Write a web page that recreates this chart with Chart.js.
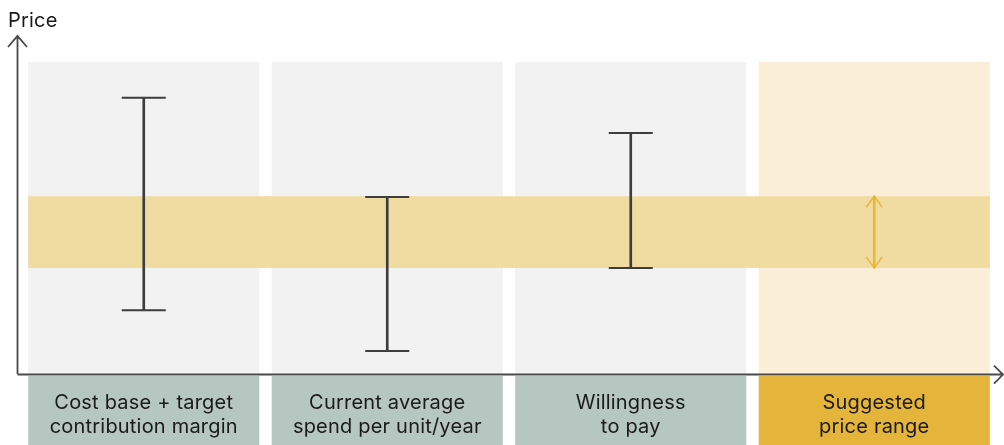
<!DOCTYPE html>
<html>
<head>
<meta charset="utf-8">
<script src="https://cdn.jsdelivr.net/npm/chart.js@4.4.1/dist/chart.umd.min.js"></script>
<style>
  html,body{margin:0;padding:0;background:#fff;}
  #wrap{width:1004px;height:445px;position:relative;}
</style>
</head>
<body>
<div id="wrap"><canvas id="priceChart"></canvas></div>
<script>
// categories and values (price units, 0 = x axis)
const categories = [
  ['Cost base + target', 'contribution margin'],
  ['Current average', 'spend per unit/year'],
  ['Willingness', 'to pay'],
  ['Suggested', 'price range']
];
const rangeLow  = [18.9, 6.8, 31.4, null];
const rangeHigh = [81.7, 52.4, 71.3, null];
const suggestedRange = [31.4, 52.6];
const columnTop = [92.3, 92.3, 92.3, 92.3];
const labelBox = [-0.6, -21];
const yTicks = [-21, 100];

const colColors = ['#f1f2f1', '#f1f2f1', '#f1f2f1', '#faeed9'];
const boxColors = ['#b6c6c0', '#b6c6c0', '#b6c6c0', '#e5b53b'];
const bandColor = '#f0dba0';
const stemColor = '#3d3d3d';
const arrowColor = '#e6b840';
const axisColor = '#4a4a4a';
const fontFamily = 'Inter, "Noto Sans", sans-serif';

const stems = rangeLow.map((lo, i) => lo == null ? suggestedRange.slice() : [lo, rangeHigh[i]]);

// draws the yellow band right after the column backgrounds
const bandPlugin = {
  id: 'band',
  afterDatasetDraw(chart, args) {
    if (args.index !== 4) return;
    const meta = chart.getDatasetMeta(4);
    const y = chart.scales.y;
    const top = y.getPixelForValue(suggestedRange[1]);
    const bot = y.getPixelForValue(suggestedRange[0]);
    const first = meta.data[0], last = meta.data[3];
    const l = first.x - first.width / 2, r = last.x + last.width / 2;
    const ctx = chart.ctx;
    ctx.save();
    ctx.fillStyle = bandColor;
    ctx.fillRect(l, top, r - l, bot - top);
    ctx.restore();
  }
};

// axes with arrows, axis title, label text, suggested range arrowheads
const decoPlugin = {
  id: 'deco',
  afterDatasetsDraw(chart) {
    const ctx = chart.ctx;
    const x = chart.scales.x, y = chart.scales.y;
    const y0 = y.getPixelForValue(0);
    const ax = chart.chartArea.left - 4.5;
    const axTop = 36;
    const axRight = 1003;
    ctx.save();
    ctx.strokeStyle = axisColor;
    ctx.lineWidth = 1.8;
    ctx.beginPath();
    ctx.moveTo(ax, y0); ctx.lineTo(ax, axTop + 1);
    ctx.moveTo(ax - 9.5, axTop + 11); ctx.lineTo(ax, axTop); ctx.lineTo(ax + 9.5, axTop + 11);
    ctx.moveTo(ax, y0 + 0.5); ctx.lineTo(axRight - 1, y0 + 0.5);
    ctx.moveTo(axRight - 9, y0 - 8.5); ctx.lineTo(axRight, y0 + 0.5); ctx.lineTo(axRight - 9, y0 + 9.5);
    ctx.stroke();

    ctx.fillStyle = '#1a1a1a';
    ctx.font = '20px ' + fontFamily;
    ctx.letterSpacing = '0.2px';
    ctx.textAlign = 'left';
    ctx.textBaseline = 'alphabetic';
    ctx.fillText('Price', 8, 27);

    ctx.textAlign = 'center';
    categories.forEach((lines, i) => {
      const cx = x.getPixelForValue(i);
      lines.forEach((t, j) => ctx.fillText(t, cx, 409 + j * 24));
    });

    // arrowheads for the suggested range
    const cx = x.getPixelForValue(3);
    const t = y.getPixelForValue(suggestedRange[1]);
    const b = y.getPixelForValue(suggestedRange[0]);
    ctx.strokeStyle = arrowColor;
    ctx.lineWidth = 1.6;
    ctx.beginPath();
    ctx.moveTo(cx - 8, t + 11); ctx.lineTo(cx, t); ctx.lineTo(cx + 8, t + 11);
    ctx.moveTo(cx - 8, b - 11); ctx.lineTo(cx, b); ctx.lineTo(cx + 8, b - 11);
    ctx.stroke();
    ctx.restore();
  }
};

new Chart(document.getElementById('priceChart'), {
  type: 'bar',
  data: {
    labels: categories,
    datasets: [
      { // caps high
        type: 'line', data: rangeHigh, showLine: false,
        pointStyle: 'line', pointRadius: 22, pointBorderWidth: 2,
        borderColor: stemColor, order: 0
      },
      { // caps low
        type: 'line', data: rangeLow, showLine: false,
        pointStyle: 'line', pointRadius: 22, pointBorderWidth: 2,
        borderColor: stemColor, order: 1
      },
      { // stems
        data: stems, barThickness: 2, grouped: false,
        backgroundColor: [stemColor, stemColor, stemColor, arrowColor], order: 2
      },
      { // label boxes
        data: categories.map(() => labelBox), grouped: false,
        barPercentage: 0.949, categoryPercentage: 1,
        backgroundColor: boxColors, order: 3
      },
      { // column backgrounds
        data: columnTop.map(v => [0, v]), grouped: false,
        barPercentage: 0.949, categoryPercentage: 1,
        backgroundColor: colColors, order: 4
      }
    ]
  },
  options: {
    responsive: true,
    maintainAspectRatio: false,
    animation: false,
    layout: { autoPadding: false, padding: { left: 22, right: 8, top: 36, bottom: 0 } },
    plugins: { legend: { display: false }, tooltip: { enabled: false } },
    scales: {
      x: { display: false },
      y: { display: false, min: yTicks[0], max: yTicks[1] }
    }
  },
  plugins: [bandPlugin, decoPlugin]
});
</script>
</body>
</html>
